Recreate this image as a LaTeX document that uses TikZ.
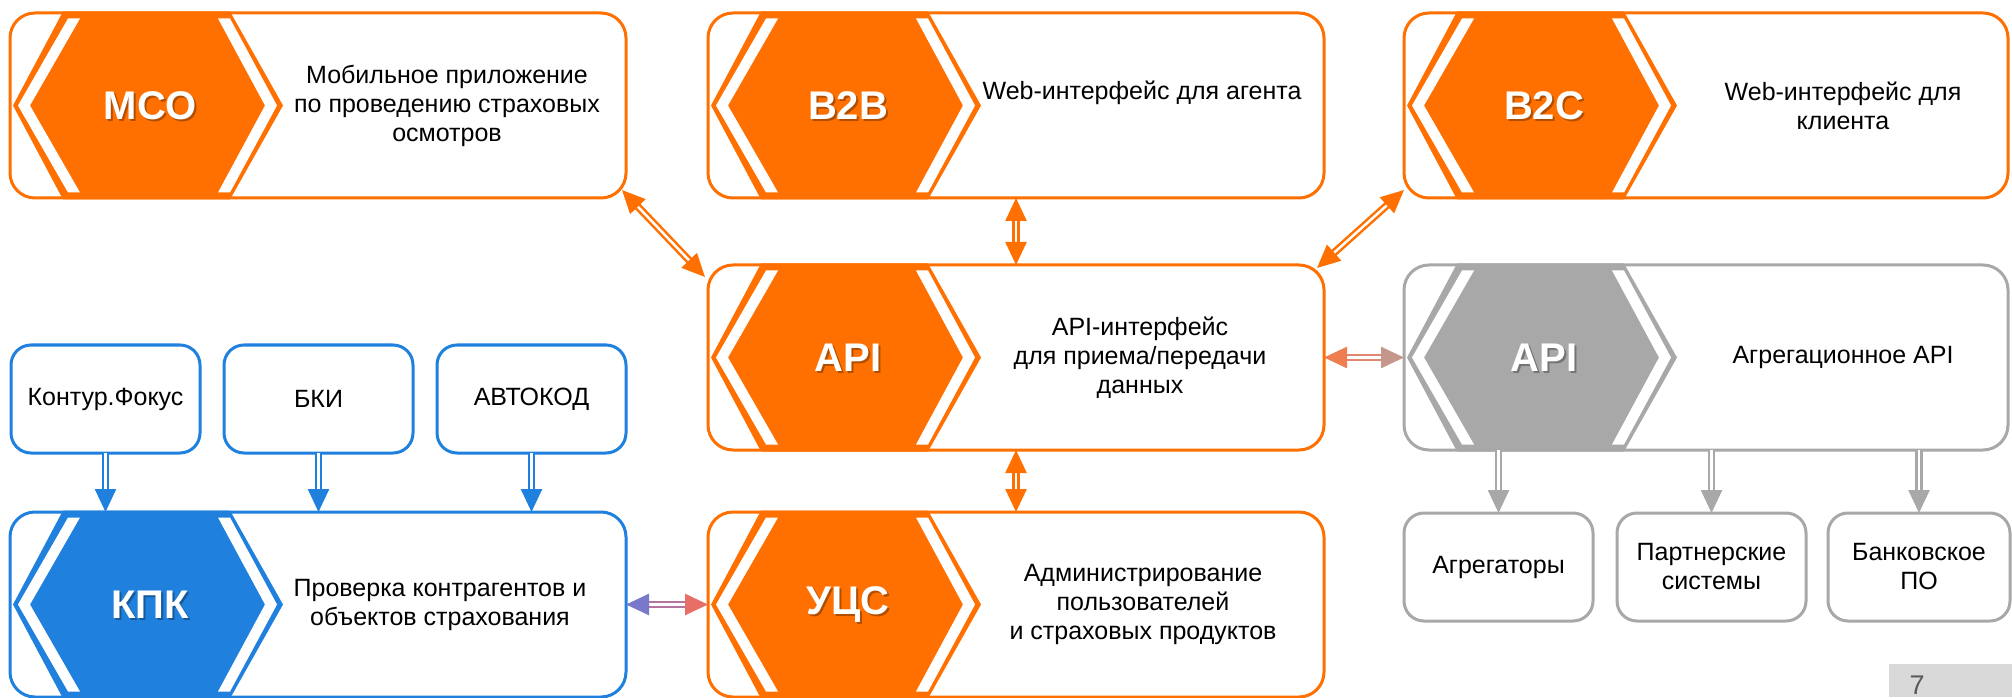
\documentclass[tikz,border=0pt]{standalone}
\usepackage{fontspec}
\setmainfont{Liberation Sans}
\usetikzlibrary{arrows.meta,positioning,calc}

\definecolor{mainorange}{RGB}{255,112,0}
\definecolor{kpkblue}{RGB}{31,128,222}
\definecolor{aggray}{RGB}{168,168,168}
\definecolor{pagegray}{RGB}{217,217,217}
\definecolor{leftsalmon}{RGB}{238,125,80}
\definecolor{rightrose}{RGB}{196,150,140}
\definecolor{midsalmon}{RGB}{222,136,112}
\definecolor{leftviolet}{RGB}{122,120,202}
\definecolor{rightred}{RGB}{232,110,104}
\definecolor{midviolet}{RGB}{180,116,160}

\tikzset{bigtri/.tip={Triangle[length=23pt,width=21pt]}}

% hexagon badge on the left of a box: node, colour, label
\newcommand{\hexbadge}[3]{%
  \begin{scope}[shift={(#1.west)}]
    \fill[#2] (3,0) -- (53,94) -- (220,94) -- (273,0) -- (220,-94) -- (53,-94) -- cycle;
    \fill[white] (58,87) -- (8,0) -- (58,-87) -- (70,-87) -- (20,0) -- (70,87) -- cycle;
    \fill[white] (220,87) -- (267,0) -- (220,-87) -- (208,-87) -- (255,0) -- (208,87) -- cycle;
    \node[badgeshade] at (142,-2) {#3};
    \node[badge] (#1-badge) at (140,0) {#3};
  \end{scope}}

\begin{document}
\begin{tikzpicture}[x=1pt, y=1pt,
  every node/.style={font=\fontsize{25}{29}\selectfont, align=center, text=black},
  mainbox/.style={rectangle, rounded corners=25pt, minimum width=616pt, minimum height=185pt, line width=3pt, inner sep=0pt, outer sep=0pt},
  narrowbox/.style={mainbox, minimum width=604pt},
  smallbox/.style={rectangle, rounded corners=20pt, minimum width=189pt, minimum height=108pt, line width=3pt, inner sep=2pt, outer sep=0pt},
  badge/.style={font=\fontsize{40}{40}\selectfont\bfseries, text=white},
  badgeshade/.style={badge, text=black, opacity=0.3},
  dblline/.style={line width=2.5pt, double=white, double distance=2.5pt},
  twoway/.style={dblline, {bigtri}-{bigtri}},
  oneway/.style={dblline, -{bigtri}}
]
\useasboundingbox (0,0) rectangle (2012,697);

% main boxes
\node[mainbox, draw=mainorange] (mco) at (318,591.5) {};
\node[mainbox, draw=mainorange, right=82pt of mco] (b2b) {};
\node[narrowbox, draw=mainorange, right=80pt of b2b] (b2c) {};
\node[mainbox, draw=mainorange, below=67pt of b2b] (api) {};
\node[narrowbox, draw=aggray, right=80pt of api] (agg) {};
\node[mainbox, draw=mainorange, below=62pt of api] (ucs) {};
\node[mainbox, draw=kpkblue, left=82pt of ucs] (kpk) {};

% sources and consumers
\node[smallbox, draw=kpkblue, above right=59pt and 1pt of kpk.north west] (kontur) {Контур.Фокус};
\node[smallbox, draw=kpkblue, right=24pt of kontur] (bki) {БКИ};
\node[smallbox, draw=kpkblue, right=24pt of bki] (avtokod) {АВТОКОД};
\node[smallbox, draw=aggray, below right=63pt and 0pt of agg.south west] (aggr) {Агрегаторы};
\node[smallbox, draw=aggray, right=24pt of aggr] (partn) {Партнерские\\системы};
\node[smallbox, draw=aggray, minimum width=182pt, right=22pt of partn] (bank) {Банковское\\ПО};

% badges
\hexbadge{mco}{mainorange}{МСО}
\hexbadge{b2b}{mainorange}{B2B}
\hexbadge{b2c}{mainorange}{B2C}
\hexbadge{api}{mainorange}{API}
\hexbadge{agg}{aggray}{API}
\hexbadge{kpk}{kpkblue}{КПК}
\hexbadge{ucs}{mainorange}{УЦС}

% descriptions
\node (mco-txt) at ([xshift=437pt]mco.west) {Мобильное приложение\\по проведению страховых\\осмотров};
\node (b2b-txt) at ([xshift=434pt, yshift=13pt]b2b.west) {Web-интерфейс для агента};
\node (b2c-txt) at ([xshift=439pt]b2c.west) {Web-интерфейс для\\клиента};
\node (api-txt) at ([xshift=432pt]api.west) {API-интерфейс\\для приема/передачи\\данных};
\node (agg-txt) at ([xshift=439pt]agg.west) {Агрегационное API};
\node (kpk-txt) at ([xshift=430pt]kpk.west) {Проверка контрагентов и\\объектов страхования};
\node (ucs-txt) at ([xshift=435pt]ucs.west) {Администрирование\\пользователей\\и страховых продуктов};

% connectors
\draw[twoway, mainorange] ($(mco.south east)+(-4,8)$) -- ($(api.north west)+(-3,-12)$);
\draw[twoway, mainorange] ($(b2c.south west)+(0,8)$) -- ($(api.north east)+(-7,-3)$);
\draw[twoway, mainorange] (b2b) -- (api);
\draw[twoway, mainorange] (api) -- (ucs);
\draw[dblline, midsalmon, {Triangle[length=23pt,width=21pt,color=leftsalmon]}-{Triangle[length=23pt,width=21pt,color=rightrose]}] (api) -- (agg);
\draw[dblline, midviolet, {Triangle[length=23pt,width=21pt,color=leftviolet]}-{Triangle[length=23pt,width=21pt,color=rightred]}] (kpk) -- (ucs);
\foreach \src in {kontur, bki, avtokod}
  \draw[oneway, kpkblue] (\src) -- (\src |- kpk.north);
\foreach \dst in {aggr, partn, bank}
  \draw[oneway, aggray] (\dst |- agg.south) -- (\dst);

% page number
\fill[pagegray] (1889,0) rectangle (2012,33);
\node[anchor=base, text=black!65, font=\fontsize{27}{27}\selectfont] (pagenum) at (1917,3) {7};
\end{tikzpicture}
\end{document}
